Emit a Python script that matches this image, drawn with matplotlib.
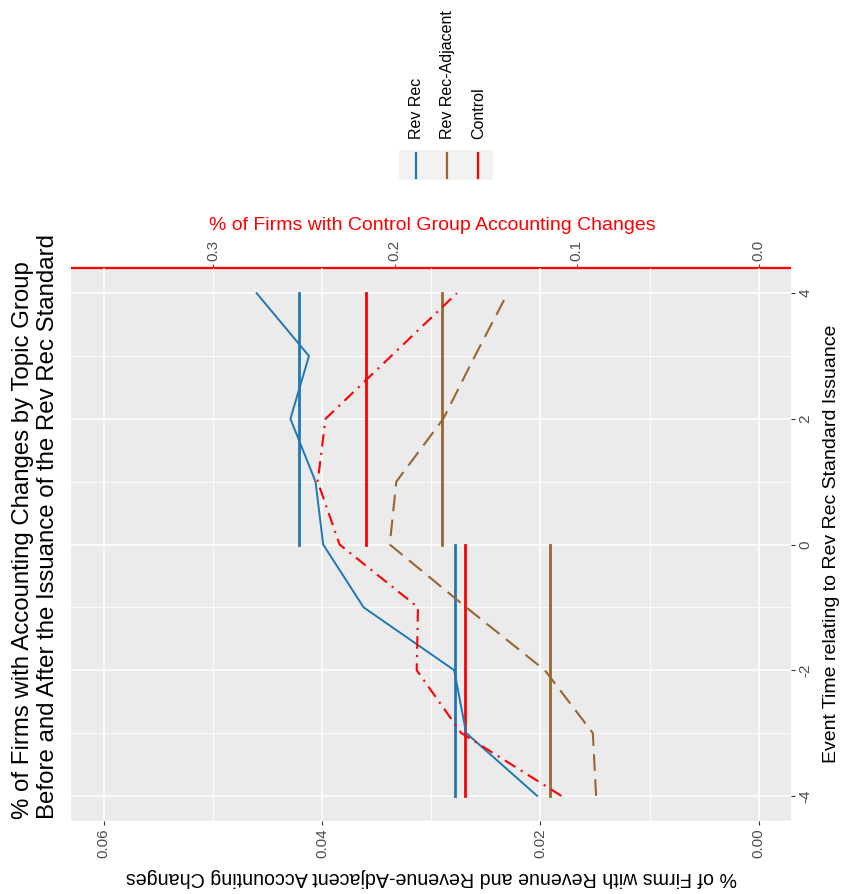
import matplotlib
matplotlib.use("Agg")
import matplotlib.pyplot as plt
from matplotlib.patches import Rectangle
from matplotlib.lines import Line2D

plt.rcParams['font.family'] = ['Liberation Sans', 'DejaVu Sans']
plt.rcParams['axes.unicode_minus'] = False

# ---------------- data ----------------
event_time = [-4, -3, -2, -1, 0, 1, 2, 3, 4]
rev_rec = [0.0203, 0.0268, 0.0279, 0.0362, 0.0399, 0.0406, 0.0429, 0.0412, 0.0460]
rev_adj = [0.0149, 0.0152, 0.0196, 0.0268, 0.0338, 0.0332, 0.0289, 0.0260, 0.0230]
control = [0.1085, 0.1635, 0.1880, 0.1873, 0.2304, 0.2424, 0.2381, 0.2020, 0.1659]

period_start = [-4, 0]
period_end = [0, 4]
rev_rec_mean = [0.0278, 0.0421]
rev_adj_mean = [0.0191, 0.0290]
control_mean = [0.1613, 0.2157]

series_names = ['Rev Rec', 'Rev Rec-Adjacent', 'Control']
primary_ticks = [0.00, 0.02, 0.04, 0.06]
secondary_ticks = [0.0, 0.1, 0.2, 0.3]
time_ticks = [-4, -2, 0, 2, 4]
sec_factor = 6.0

title_lines = ['% of Firms with Accounting Changes by Topic Group',
               'Before and After the Issuance of the Rev Rec Standard']
x_title = 'Event Time relating to Rev Rec Standard Issuance'
y_title = '% of Firms with Revenue and Revenue-Adjacent Accounting Changes'
sec_title = '% of Firms with Control Group Accounting Changes'

BLUE = '#1F78B4'
BROWN = '#996633'
RED = '#FF0000'
TICK_COL = '#4D4D4D'

W, H = 843, 894
fig = plt.figure(figsize=(W / 100, H / 100), dpi=100)

pl, pr, pt, pb = 71, 791.5, 268, 821
ax = fig.add_axes([pl / W, 1 - pb / H, (pr - pl) / W, (pb - pt) / H])
ax.set_facecolor('#EBEBEB')
ax.set_xlim(0.063, -0.003)
ax.set_ylim(-4.4, 4.4)
for s in ax.spines.values():
    s.set_visible(False)

# grid
ax.set_xticks(primary_ticks)
ax.set_xticks([0.01, 0.03, 0.05], minor=True)
ax.set_yticks(time_ticks)
ax.set_yticks([-3, -1, 1, 3], minor=True)
ax.grid(which='major', color='white', lw=1.1)
ax.grid(which='minor', color='white', lw=0.6)
ax.set_axisbelow(True)
ax.tick_params(which='minor', length=0)

ax.yaxis.tick_right()
ax.set_xticklabels(['%.2f' % v for v in primary_ticks], rotation=90, color=TICK_COL, fontsize=11)
ax.set_yticklabels([str(v) for v in time_ticks], rotation=90, color=TICK_COL, fontsize=11,
                   va='center')
ax.tick_params(which='major', length=3, width=0.8, color='#333333', pad=2)

# data lines
ax.plot(rev_rec, event_time, color=BLUE, lw=1.4, zorder=3)
ax.plot(rev_adj, event_time, color=BROWN, lw=1.5, dashes=(8, 4), zorder=3)
ax.plot([c / sec_factor for c in control], event_time, color=RED, lw=1.5,
        dashes=(6, 3, 1, 3), zorder=3)

# period mean lines
for i in range(2):
    ax.plot([rev_rec_mean[i]] * 2, [period_start[i], period_end[i]], color=BLUE, lw=2.0, zorder=2)
    ax.plot([rev_adj_mean[i]] * 2, [period_start[i], period_end[i]], color=BROWN, lw=2.0, zorder=2)
    ax.plot([control_mean[i] / sec_factor] * 2, [period_start[i], period_end[i]], color=RED,
            lw=2.0, zorder=2)

# secondary axis (top)
sec = ax.secondary_xaxis('top', functions=(lambda x: x * sec_factor, lambda x: x / sec_factor))
sec.set_xticks(secondary_ticks)
sec.set_xticklabels(['%.1f' % v for v in secondary_ticks], rotation=90, color=TICK_COL, fontsize=11)
sec.tick_params(length=3, width=0.8, color=RED, pad=2)
sec.spines['top'].set_color(RED)
sec.spines['top'].set_linewidth(1.6)
sec.spines['top'].set_capstyle('butt')

# axis titles
fig.text(832 / W, 1 - 544 / H, x_title, rotation=90, ha='center', va='center', fontsize=14,
         color='black')
fig.text(431 / W, 1 - 877 / H, y_title, rotation=180, ha='center', va='center', fontsize=14.1,
         color='black')
fig.text(432 / W, 1 - 225 / H, sec_title, ha='center', va='center', fontsize=14, color=RED)

# title
fig.text(23 / W, 1 - 819 / H, title_lines[0], rotation=90, rotation_mode='anchor',
         ha='left', va='center', fontsize=17.3)
fig.text(48 / W, 1 - 819 / H, title_lines[1], rotation=90, rotation_mode='anchor',
         ha='left', va='center', fontsize=17.3)

# legend (manual, rotated)
fig.patches.append(Rectangle((399 / W, 1 - 180 / H), (493 - 399) / W, 30 / H,
                             transform=fig.transFigure, facecolor='#F2F2F2',
                             edgecolor='none'))
key_x = [415.7, 446.7, 477.7]
lab_x = [416.7, 448, 479]
for name, col, kx, lx in zip(series_names, [BLUE, BROWN, RED], key_x, lab_x):
    fig.lines.append(Line2D([kx / W, kx / W], [1 - 178 / H, 1 - 153 / H],
                            transform=fig.transFigure, color=col, lw=1.6))
    fig.text(lx / W, 1 - 139 / H, name, rotation=90, rotation_mode='anchor',
             ha='left', va='center', fontsize=11.5)

fig.savefig('out.png', dpi=100)
